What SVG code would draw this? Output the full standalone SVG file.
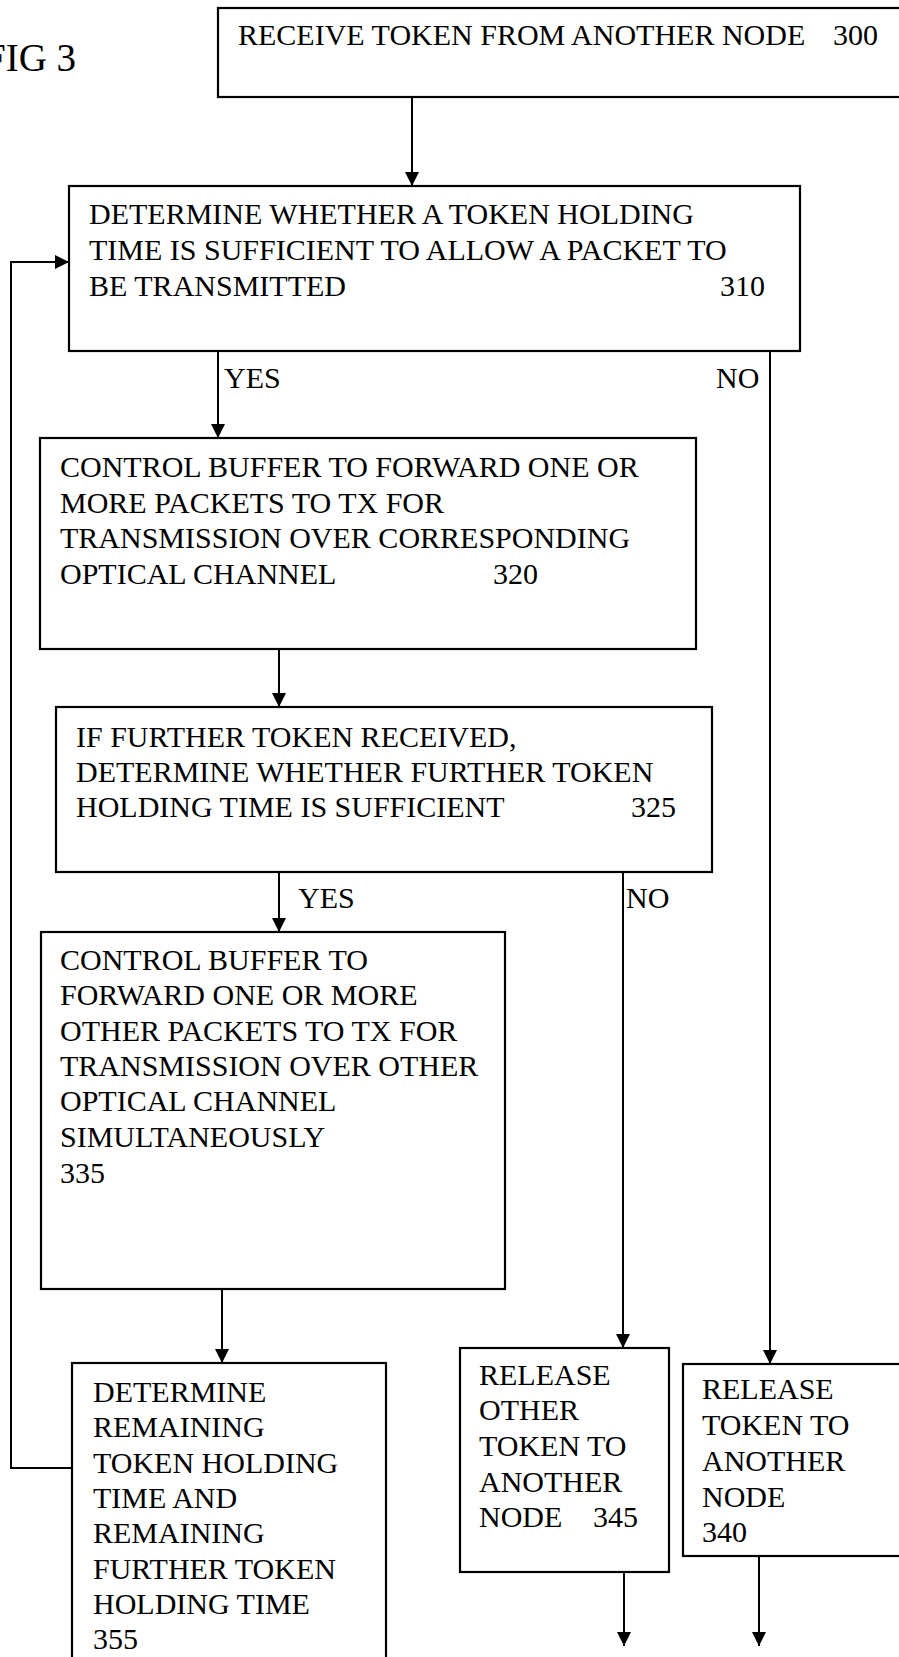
<svg xmlns="http://www.w3.org/2000/svg" width="899" height="1657" viewBox="0 0 899 1657">
<style>
text{font-family:"Liberation Serif","Times New Roman",serif;font-size:30px;fill:#000}
.box{fill:#fff;stroke:#000;stroke-width:2.2}
.c{fill:none;stroke:#000;stroke-width:2}
</style>
<defs>
<marker id="ah" markerUnits="userSpaceOnUse" markerWidth="14" markerHeight="14" viewBox="0 0 14 14" refX="14" refY="7" orient="auto">
<path d="M0,0 L14,7 L0,14 Z" fill="#000"/>
</marker>
</defs>
<rect width="899" height="1657" fill="#fff"/>
<text x="-16" y="71" style="font-size:39px">FIG 3</text>
<g id="connectors">
<line class="c" x1="412" y1="97" x2="412" y2="186" marker-end="url(#ah)"/>
<line class="c" x1="218" y1="351" x2="218" y2="438" marker-end="url(#ah)"/>
<line class="c" x1="770" y1="351" x2="770" y2="1364" marker-end="url(#ah)"/>
<line class="c" x1="279" y1="649" x2="279" y2="707" marker-end="url(#ah)"/>
<line class="c" x1="279" y1="872" x2="279" y2="932" marker-end="url(#ah)"/>
<line class="c" x1="623" y1="872" x2="623" y2="1348" marker-end="url(#ah)"/>
<line class="c" x1="222" y1="1289" x2="222" y2="1363" marker-end="url(#ah)"/>
<polyline class="c" points="72,1468 11,1468 11,262 69,262" marker-end="url(#ah)"/>
<line class="c" x1="624" y1="1572" x2="624" y2="1646" marker-end="url(#ah)"/>
<line class="c" x1="759" y1="1556" x2="759" y2="1646" marker-end="url(#ah)"/>
<text x="224" y="388">YES</text>
<text x="716" y="388">NO</text>
<text x="298" y="908">YES</text>
<text x="626" y="908">NO</text>
</g>
<g id="n300">
<rect class="box" x="218" y="8" width="690" height="89"/>
<text x="238" y="45">RECEIVE TOKEN FROM ANOTHER NODE</text>
<text x="833" y="45">300</text>
</g>
<g id="n310">
<rect class="box" x="69" y="186" width="731" height="165"/>
<text x="89" y="224">DETERMINE WHETHER A TOKEN HOLDING</text>
<text x="89" y="260">TIME IS SUFFICIENT TO ALLOW A PACKET TO</text>
<text x="89" y="296">BE TRANSMITTED</text>
<text x="720" y="296">310</text>
</g>
<g id="n320">
<rect class="box" x="40" y="438" width="656" height="211"/>
<text x="60" y="477">CONTROL BUFFER TO FORWARD ONE OR</text>
<text x="60" y="513">MORE PACKETS TO TX FOR</text>
<text x="60" y="548">TRANSMISSION OVER CORRESPONDING</text>
<text x="60" y="584">OPTICAL CHANNEL</text>
<text x="493" y="584">320</text>
</g>
<g id="n325">
<rect class="box" x="56" y="707" width="656" height="165"/>
<text x="76" y="747">IF FURTHER TOKEN RECEIVED,</text>
<text x="76" y="782">DETERMINE WHETHER FURTHER TOKEN</text>
<text x="76" y="817">HOLDING TIME IS SUFFICIENT</text>
<text x="631" y="817">325</text>
</g>
<g id="n335">
<rect class="box" x="41" y="932" width="464" height="357"/>
<text x="60" y="970">CONTROL BUFFER TO</text>
<text x="60" y="1005">FORWARD ONE OR MORE</text>
<text x="60" y="1041">OTHER PACKETS TO TX FOR</text>
<text x="60" y="1076">TRANSMISSION OVER OTHER</text>
<text x="60" y="1111">OPTICAL CHANNEL</text>
<text x="60" y="1147">SIMULTANEOUSLY</text>
<text x="60" y="1183">335</text>
</g>
<g id="n355">
<rect class="box" x="72" y="1363" width="314" height="310"/>
<text x="93" y="1402">DETERMINE</text>
<text x="93" y="1437">REMAINING</text>
<text x="93" y="1473">TOKEN HOLDING</text>
<text x="93" y="1508">TIME AND</text>
<text x="93" y="1543">REMAINING</text>
<text x="93" y="1579">FURTHER TOKEN</text>
<text x="93" y="1614">HOLDING TIME</text>
<text x="93" y="1649">355</text>
</g>
<g id="n345">
<rect class="box" x="460" y="1348" width="209" height="224"/>
<text x="479" y="1385">RELEASE</text>
<text x="479" y="1420">OTHER</text>
<text x="479" y="1456">TOKEN TO</text>
<text x="479" y="1492">ANOTHER</text>
<text x="479" y="1527">NODE</text>
<text x="593" y="1527">345</text>
</g>
<g id="n340">
<rect class="box" x="683" y="1364" width="225" height="192"/>
<text x="702" y="1399">RELEASE</text>
<text x="702" y="1435">TOKEN TO</text>
<text x="702" y="1471">ANOTHER</text>
<text x="702" y="1507">NODE</text>
<text x="702" y="1542">340</text>
</g>
</svg>
